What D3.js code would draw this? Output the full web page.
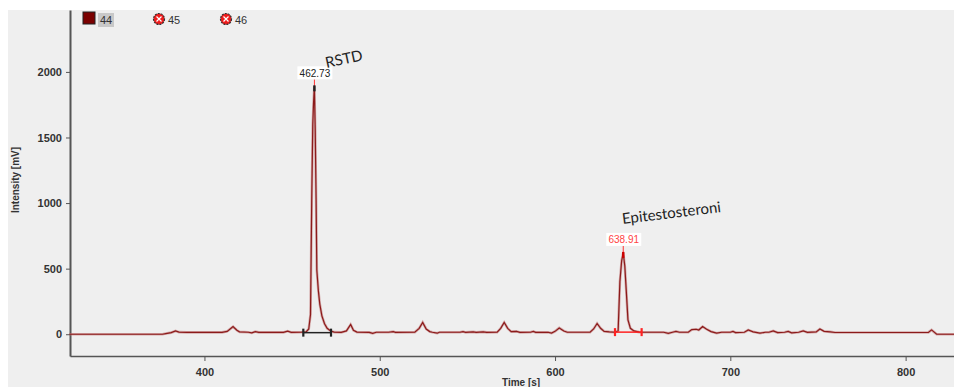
<!DOCTYPE html>
<html>
<head>
<meta charset="utf-8">
<script src="https://cdn.jsdelivr.net/npm/d3@7"></script>
<style>
  body { margin: 0; background: #fff; }
  svg { display: block; }
  .axis text { font-family: "Liberation Sans", Arial, sans-serif; font-weight: bold; font-size: 11px; fill: #333; }
  .axis path, .axis line { stroke: #555; }
</style>
</head>
<body>
<div id="chart"></div>
<script>
// chromatogram trace (time in s, intensity in mV)
const times = [323, 376, 378, 381, 383.5, 385.5, 390, 410, 413, 416.3, 418.5, 420, 425, 427, 429, 431, 445, 447.5, 449.5, 455, 458,
  459.5, 460.5, 461.2, 461.8, 462.2, 462.7, 463.2, 463.7, 464.1, 465, 465.8, 467, 468.5, 470, 472, 474, 478, 481, 483.4, 485, 487,
  494, 496, 498, 505, 507.7, 509, 520, 522.5, 524.5, 526.5, 528.5, 530, 532.8, 534, 545.8, 547.5, 549, 553.3, 555, 559, 561,
  567, 569, 571, 573, 575, 578, 580, 586, 587.6, 589, 596, 598, 600, 602.4, 605, 607, 620, 622, 624, 626, 628, 631, 634,
  636, 637, 638, 638.9, 639.8, 640.6, 641.6, 643, 645, 648, 662, 664.6, 667, 669, 671, 676, 678, 680.5, 682, 684.2, 686.5, 689,
  692.2, 695, 700, 701.5, 703, 708, 710.2, 713, 716.9, 720, 722, 724.5, 727, 731, 733, 735, 739, 741.6, 744, 749, 751.1, 753.5,
  757, 759.7, 813, 814.8, 816.5, 817.7, 828];
const intensity = [0, 0, 5, 12, 25, 16, 14, 14, 22, 58, 30, 18, 15, 10, 20, 14, 14, 24, 14, 15, 18,
  40, 150, 1020, 1600, 1750, 1890, 1550, 1020, 490, 330, 230, 140, 80, 45, 25, 16, 14, 25, 74, 30, 16,
  14, 7, 15, 15, 20, 14, 15, 45, 90, 40, 20, 15, 8, 15, 15, 20, 14, 18, 14, 18, 14,
  15, 45, 90, 45, 20, 22, 14, 15, 22, 14, 15, 9, 22, 48, 25, 15, 15, 40, 82, 45, 22, 18, 15,
  25, 400, 560, 620, 520, 340, 110, 45, 25, 16, 15, 7, 15, 22, 15, 15, 35, 38, 32, 58, 38, 20,
  8, 15, 15, 22, 12, 15, 32, 18, 8, 15, 15, 25, 12, 15, 22, 10, 15, 26, 14, 18, 40, 22,
  18, 13, 14, 33, 14, 0, 0];

// integrated peaks
const peakNames = ['RSTD', 'Epitestosteroni'];
const peakTimes = [462.73, 638.91];
const peakHeights = [1890, 620];
const peakStart = [456.4, 634.2];
const peakEnd = [472.2, 649.4];
const peakBase = [12, 16];
const peakColors = ['#222', '#f22'];
const labelColors = ['#222', '#f44'];

const legendNames = ['44', '45', '46'];

const yTicks = [0, 500, 1000, 1500, 2000];
const xTicks = [400, 500, 600, 700, 800];

const W = 954, H = 387;
const svg = d3.select('#chart').append('svg').attr('width', W).attr('height', H);

svg.append('rect').attr('x', 8).attr('y', 10).attr('width', W - 8).attr('height', H - 10).attr('fill', '#efefef');

const margin = { left: 70, right: 954, top: 10, bottom: 356 };
const x = d3.scaleLinear().domain([323.3, 827.6]).range([margin.left, margin.right]);
const y = d3.scaleLinear().domain([-166, 2472]).range([margin.bottom, margin.top]);

// axes
const xAxis = svg.append('g').classed('axis', true)
  .attr('transform', `translate(0,${margin.bottom})`)
  .call(d3.axisBottom(x).tickValues(xTicks).tickSize(5).tickSizeOuter(0).tickFormat(d3.format('d')));
const yAxis = svg.append('g').classed('axis', true)
  .attr('transform', `translate(${margin.left},0)`)
  .call(d3.axisLeft(y).tickValues(yTicks).tickSize(4).tickSizeOuter(0).tickFormat(d3.format('d')));
xAxis.select('.domain').attr('stroke-width', 1.5);
yAxis.select('.domain').attr('stroke-width', 2);
xAxis.selectAll('text').attr('dy', '1.1em');
yAxis.selectAll('text').attr('dx', '-1px');

svg.append('text')
  .attr('x', 502).attr('y', 386)
  .style('font-family', '"Liberation Sans", Arial, sans-serif')
  .style('font-weight', 'bold').style('font-size', '10px').attr('fill', '#333')
  .text('Time [s]');

svg.append('text')
  .attr('transform', `translate(19,180) rotate(-90)`)
  .attr('text-anchor', 'middle')
  .style('font-family', '"Liberation Sans", Arial, sans-serif')
  .style('font-weight', 'bold').style('font-size', '10px').attr('fill', '#333')
  .text('Intensity [mV]');

// trace
const pts = times.map((t, i) => [t, intensity[i]]);
const line = d3.line().x(d => x(d[0])).y(d => y(d[1]));
svg.append('path').datum(pts).attr('d', line)
  .attr('fill', 'none').attr('stroke', '#c27a7a').attr('stroke-width', 2.6).attr('stroke-opacity', 0.6);
svg.append('path').datum(pts).attr('d', line)
  .attr('fill', 'none').attr('stroke', '#8b1a1a').attr('stroke-width', 1.2);

// integration bars, peak markers and labels
peakTimes.forEach((t, i) => {
  const c = peakColors[i];
  const yb = y(peakBase[i]);
  svg.append('line').attr('x1', x(peakStart[i])).attr('x2', x(peakEnd[i]))
    .attr('y1', yb).attr('y2', yb).attr('stroke', c).attr('stroke-width', 1.5);
  [peakStart[i], peakEnd[i]].forEach(s => {
    svg.append('line').attr('x1', x(s)).attr('x2', x(s))
      .attr('y1', yb - 4).attr('y2', yb + 4).attr('stroke', c).attr('stroke-width', 2.2);
  });

  const px = x(t), py = y(peakHeights[i]);
  svg.append('line').attr('x1', px).attr('x2', px).attr('y1', py - 7).attr('y2', py)
    .attr('stroke', '#f33').attr('stroke-width', 1);
  svg.append('rect').attr('x', px - 1.2).attr('y', py - 1).attr('width', 2.4).attr('height', 6)
    .attr('fill', i === 0 ? '#222' : '#c00');

  const lbl = t.toFixed(2);
  svg.append('rect').attr('x', px - 17).attr('y', py - 20).attr('width', 35).attr('height', 13)
    .attr('fill', '#fff');
  svg.append('text').attr('x', px + 0.5).attr('y', py - 9.5)
    .attr('text-anchor', 'middle')
    .style('font-family', '"Liberation Sans", Arial, sans-serif').style('font-size', '10px')
    .attr('fill', labelColors[i]).text(lbl);
});

// compound names, slightly tilted
const nameAt = [[345, 64, -12], [672, 218, -7]];
peakNames.forEach((n, i) => {
  svg.append('text')
    .attr('transform', `translate(${nameAt[i][0]},${nameAt[i][1]}) rotate(${nameAt[i][2]})`)
    .attr('text-anchor', 'middle')
    .style('font-family', 'Lato, "Open Sans", sans-serif').style('font-size', '15px')
    .attr('fill', '#222').text(n);
});

// legend
const legX = [83, 159, 226];
legendNames.forEach((n, i) => {
  if (i === 0) {
    svg.append('rect').attr('x', legX[i]).attr('y', 12).attr('width', 12).attr('height', 12)
      .attr('fill', '#7a0000').attr('stroke', '#222').attr('stroke-width', 1);
    svg.append('rect').attr('x', 98).attr('y', 13).attr('width', 16).attr('height', 14).attr('fill', '#c8c8c8');
    svg.append('text').attr('x', 100).attr('y', 24)
      .style('font-family', '"Liberation Sans", Arial, sans-serif').style('font-size', '11px')
      .attr('fill', '#333').text(n);
  } else {
    const cx = legX[i], cy = 19;
    svg.append('circle').attr('cx', cx).attr('cy', cy).attr('r', 5.5)
      .attr('fill', '#ee1c1c').attr('stroke', '#333').attr('stroke-width', 1.2)
      .attr('stroke-dasharray', '2,1');
    svg.append('path').attr('d', `M${cx - 2.5},${cy - 2.5}L${cx + 2.5},${cy + 2.5}M${cx + 2.5},${cy - 2.5}L${cx - 2.5},${cy + 2.5}`)
      .attr('stroke', '#fff').attr('stroke-width', 1.2);
    svg.append('text').attr('x', cx + 9).attr('y', 24)
      .style('font-family', '"Liberation Sans", Arial, sans-serif').style('font-size', '11px')
      .attr('fill', '#333').text(n);
  }
});
</script>
</body>
</html>
